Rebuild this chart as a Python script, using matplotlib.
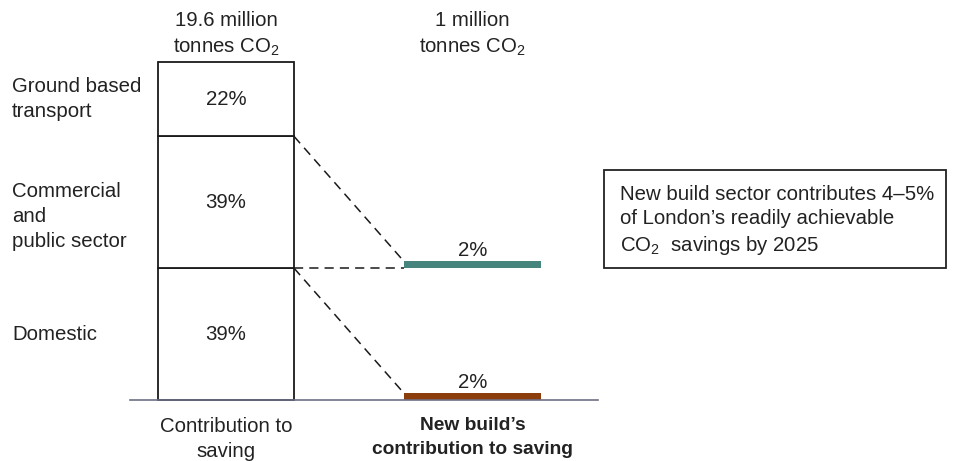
import matplotlib
matplotlib.use('Agg')
import matplotlib.pyplot as plt
from matplotlib.patches import Rectangle

plt.rcParams['font.family'] = ['Liberation Sans', 'DejaVu Sans']
plt.rcParams['mathtext.fontset'] = 'custom'
plt.rcParams['mathtext.rm'] = 'Liberation Sans'

# data
sectors = ['Domestic', 'Commercial\nand\npublic sector', 'Ground based\ntransport']
shares = [39, 39, 22]
newbuild_labels = ['Domestic', 'Commercial']
newbuild_shares = [2, 2]
newbuild_colors = ['#8b3d0b', '#45857d']
headers = ['19.6 million\ntonnes CO$_\\mathregular{2}$', '1 million\ntonnes CO$_\\mathregular{2}$']
footers = ['Contribution to\nsaving', 'New build\u2019s\ncontribution to saving']
note = 'New build sector contributes 4\u20135%\nof London\u2019s readily achievable\nCO$_\\mathregular{2}$  savings by 2025'

txt = '#222222'
fs = 14.7
ls = 1.4

fig = plt.figure(figsize=(9.54, 4.61), dpi=100)
ax = fig.add_axes([0, 0, 1, 1])
px = 246.5
ax.set_xlim(-226 / px, (954 - 226) / px)
ax.set_ylim(-61 * 100 / 338, 400 * 100 / 338)
ax.axis('off')

# left stacked bar
label_shift = [0, -4.2, 0]  # sector label nudges
bottom = 0
tops = []
for name, v, dy in zip(sectors, shares, label_shift):
    ax.bar(0, v, bottom=bottom, width=0.552, color='white', edgecolor='#1a1a1a', linewidth=1.3, zorder=3)
    ax.text(0, bottom + v / 2, f'{v}%', ha='center', va='center', fontsize=fs, color=txt, zorder=4)
    ax.text(-0.868, bottom + v / 2 + dy, name, ha='left', va='center', fontsize=fs, color=txt, linespacing=ls)
    bottom += v
    tops.append(bottom)

# new build bars: domestic at base, commercial on top of domestic level
nb_bottoms = [0, shares[0]]
for b, v, c in zip(nb_bottoms, newbuild_shares, newbuild_colors):
    ax.bar(1, v, bottom=b, width=0.556, color=c, edgecolor='none', zorder=3)
    ax.text(1, b + v + 0.4, f'{v}%', ha='center', va='bottom', fontsize=fs, color=txt)

# dashed connectors
x0, x1 = 0.276, 1 - 0.278
dash = dict(color='#1a1a1a', lw=1.1, linestyle=(0, (6, 4)), zorder=2)
ax.plot([x0, x1], [tops[1], nb_bottoms[1] + newbuild_shares[1]], **dash)
ax.plot([x0, x1], [tops[0], nb_bottoms[1]], **dash)
ax.plot([x0, x1], [tops[0], nb_bottoms[0] + newbuild_shares[0]], **dash)

# baseline
ax.plot([-0.39, 1.51], [0, 0], color='#6e7085', lw=1.2, zorder=4)

# headers and footers
for i, h in enumerate(headers):
    ax.text(i, 101.2, h, ha='center', va='bottom', fontsize=fs, color=txt, linespacing=ls)
ax.text(0, -5.1, footers[0], ha='center', va='top', fontsize=fs, color=txt, linespacing=ls)
ax.text(1, -5.1, footers[1], ha='center', va='top', fontsize=13.8, color=txt, linespacing=1.5,
        fontweight='bold')

# note box
fig.patches.append(Rectangle((604 / 954, 1 - 268 / 461), 342 / 954, 98 / 461,
                             transform=fig.transFigure, fill=False, edgecolor='#222222', lw=1.3))
fig.text(620 / 954, 1 - 221 / 461, note, ha='left', va='center', fontsize=fs, color=txt, linespacing=1.33)

fig.savefig('out.png', dpi=100)
